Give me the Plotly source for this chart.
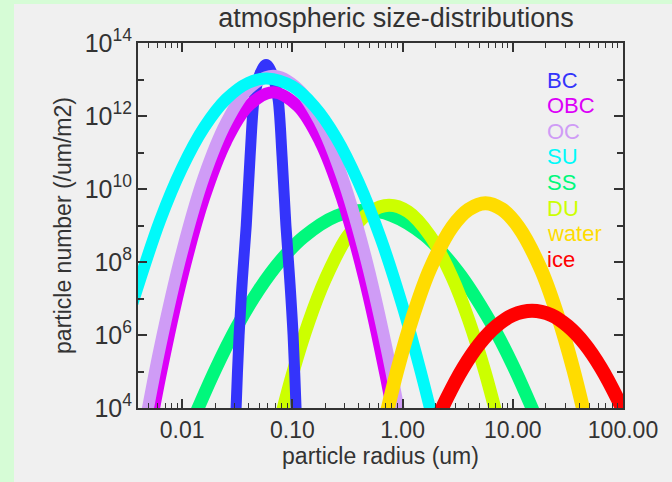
import plotly.graph_objects as go

# ---- data (radius in um, number in /um/m2) ----
bc_r = [0.02965, 0.0309, 0.0329, 0.0352, 0.0382, 0.0414, 0.0449, 0.0481, 0.0515, 0.0578,
        0.0649, 0.0695, 0.0745, 0.0807, 0.0875, 0.0948, 0.1016, 0.1081, 0.1127]
bc_n = [2.5e2, 1e4, 1e6, 3.2e7, 1e9, 7.9e10, 2.7e12, 7.9e12, 1.58e13, 2.57e13,
        1.58e13, 7.9e12, 2.7e12, 7.9e10, 1e9, 3.2e7, 1e6, 1e4, 2.5e2]

obc_r = [0.00447, 0.00631, 0.01, 0.0158, 0.0251, 0.0398, 0.0668, 0.112, 0.178, 0.282, 0.447, 0.708, 1.0]
obc_n = [245, 6.9e4, 3.9e7, 5.6e9, 2.04e11, 1.86e12, 4.5e12, 1.86e12, 2.04e11, 5.6e9, 3.9e7, 6.9e4, 245]

oc_r = [0.00447, 0.00631, 0.01, 0.0158, 0.0251, 0.0398, 0.067, 0.112, 0.178, 0.282, 0.447, 0.708, 1.0]
oc_n = [2.2e3, 4.8e5, 1.95e8, 2.2e10, 6.6e11, 5.5e12, 1.26e13, 5.6e12, 6.8e11, 2.24e10, 2.04e8, 5.1e5, 2.4e3]

su_r = [0.00355, 0.00631, 0.01, 0.0158, 0.0251, 0.0398, 0.059, 0.1, 0.158, 0.251, 0.398, 0.631, 1.0, 1.41, 2.0]
su_n = [7.4e6, 1.38e9, 3.8e10, 4.8e11, 2.9e12, 8.1e12, 1.07e13, 6.5e12, 1.86e12, 2.5e11, 1.55e10, 4.6e8, 6.2e6, 1.5e5, 2.3e3]

ss_r = [0.0126, 0.02, 0.0316, 0.0501, 0.0794, 0.126, 0.251, 0.457, 0.794, 1.585, 3.16, 6.31, 10.0, 15.85]
ss_n = [4.8e3, 1.12e5, 1.74e6, 1.78e7, 1.15e8, 4.8e8, 1.82e9, 2.6e9, 1.9e9, 5.4e8, 5.6e7, 2.2e6, 1.5e5, 6.6e3]

du_r = [0.0708, 0.1, 0.141, 0.2, 0.316, 0.501, 0.754, 1.122, 1.778, 2.818, 3.98, 5.62, 7.94]
du_n = [1.55e3, 8.3e4, 2.3e6, 3.5e7, 5e8, 2.3e9, 3.6e9, 2.4e9, 5.2e8, 3.8e7, 2.6e6, 9.3e4, 1.8e3]

water_r = [0.631, 0.891, 1.259, 1.778, 2.818, 3.98, 5.65, 7.94, 11.2, 17.8, 25.1, 35.5, 50.1]
water_n = [1.3e3, 1.02e5, 3.7e6, 6.5e7, 9.1e8, 2.75e9, 4.1e9, 2.8e9, 9.3e8, 6.8e7, 4e6, 1.12e5, 1.5e3]

ice_r = [1.778, 2.512, 3.548, 5.012, 7.079, 10.0, 14.96, 22.4, 31.6, 44.7, 63.1, 89.1, 125.9]
ice_n = [1.8e3, 1.8e4, 1.26e5, 5.8e5, 1.74e6, 3.5e6, 4.6e6, 3.5e6, 1.74e6, 5.8e5, 1.26e5, 1.8e4, 1.8e3]

legend_names = ["BC", "OBC", "OC", "SU", "SS", "DU", "water", "ice"]
colors = {"BC": "#3434fb", "OBC": "#dc00f8", "OC": "#cf9cf6", "SU": "#00fafa",
          "SS": "#00f87c", "DU": "#ccff00", "water": "#ffdc00", "ice": "#ff0000"}
series = {"BC": (bc_r, bc_n, 11), "OBC": (obc_r, obc_n, 12), "OC": (oc_r, oc_n, 12),
          "SU": (su_r, su_n, 12), "SS": (ss_r, ss_n, 13), "DU": (du_r, du_n, 13),
          "water": (water_r, water_n, 14), "ice": (ice_r, ice_n, 14)}
draw_order = ["SS", "DU", "BC", "OBC", "OC", "SU", "water", "ice"]

FONT = "Liberation Sans, Arial, Helvetica, sans-serif"
INK = "#333333"

fig = go.Figure()
for name in draw_order:
    r, n, w = series[name]
    fig.add_trace(go.Scatter(x=r, y=n, mode="lines", name=name,
                             line=dict(color=colors[name], width=w, shape="spline", smoothing=1.0),
                             showlegend=False, hoverinfo="skip"))

# legend as coloured text
L, R, T, B = 138, 49, 43, 74
W, H = 672 - L - R, 482 - T - B
leg_y0 = 80
for i, name in enumerate(legend_names):
    py = leg_y0 + i * 25.6
    fig.add_annotation(x=(545 - L) / W, y=(482 - B - py) / H, xref="paper", yref="paper",
                       text=name, showarrow=False, xanchor="left", yanchor="middle",
                       font=dict(family=FONT, size=22, color=colors[name]))

# backgrounds: green page edge, gray panel
fig.add_shape(type="rect", xref="paper", yref="paper", layer="below",
              x0=(14 - L) / W, x1=1.3, y0=-0.4, y1=(482 - B - 4) / H,
              fillcolor="#f0f0f0", line=dict(width=0))

axis_common = dict(showline=True, linecolor=INK, linewidth=2, mirror="allticks",
                   ticks="inside", tickcolor=INK, tickwidth=1.5, showgrid=False,
                   zeroline=False)

fig.update_xaxes(type="log", range=[-2.4, 2.0], tickmode="linear", tick0=0, dtick=1,
                 tickformat=".2f", ticklen=9, tickfont=dict(family=FONT, size=23, color=INK),
                 minor=dict(ticks="inside", ticklen=5, dtick="D1", tickcolor=INK, tickwidth=1.2, showgrid=False),
                 title=dict(text="particle radius (um)", font=dict(family=FONT, size=23, color=INK), standoff=6),
                 **axis_common)
fig.update_yaxes(type="log", range=[4, 14], tickmode="linear", tick0=0, dtick=2,
                 exponentformat="power", ticklen=9, tickfont=dict(family=FONT, size=20, color=INK),
                 minor=dict(ticks="inside", ticklen=6, dtick=1, tick0=0, tickcolor=INK, tickwidth=1.5, showgrid=False),
                 title=dict(text="particle number (/um/m2)", font=dict(family=FONT, size=23, color=INK), standoff=7),
                 **axis_common)

fig.update_layout(
    width=672, height=482,
    margin=dict(l=L, r=R, t=T, b=B, autoexpand=False),
    paper_bgcolor="#d6fcd6", plot_bgcolor="#f0f0f0",
    title=dict(text="atmospheric size-distributions", x=(396 - L) / W, xref="paper", xanchor="center",
               y=1 - 18 / 482, yref="container", yanchor="middle",
               font=dict(family=FONT, size=27, color=INK)),
    showlegend=False,
)

fig.write_html("out.html")
